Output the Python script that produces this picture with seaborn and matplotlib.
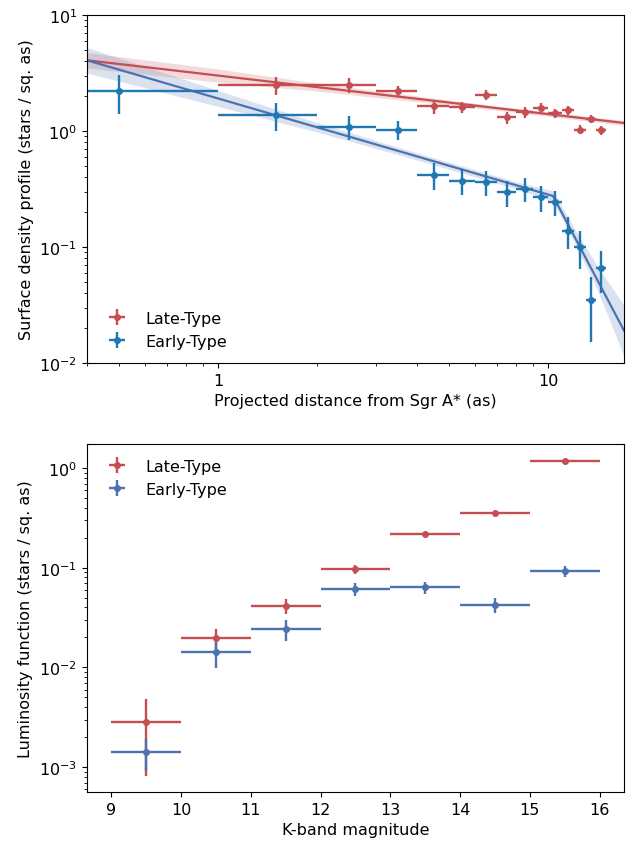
import matplotlib
matplotlib.use("Agg")
import matplotlib.pyplot as plt
import numpy as np
import pandas as pd
import seaborn as sns

# %%
# radial profile, bins of 1 arcsec
r_late = [1.5, 2.5, 3.5, 4.5, 5.5, 6.5, 7.5, 8.5, 9.5, 10.5, 11.5, 12.5, 13.5, 14.5]
sd_late = [2.49, 2.49, 2.22, 1.63, 1.60, 2.05, 1.31, 1.45, 1.58, 1.43, 1.52, 1.03, 1.27, 1.02]
sd_late_err = [0.45, 0.36, 0.25, 0.22, 0.18, 0.21, 0.15, 0.15, 0.15, 0.13, 0.13, 0.09, 0.10, 0.09]

r_early = [0.5, 1.5, 2.5, 3.5, 4.5, 5.5, 6.5, 7.5, 8.5, 9.5, 10.5, 11.5, 12.5, 13.5, 14.5]
sd_early = [2.22, 1.37, 1.09, 1.03, 0.421, 0.374, 0.366, 0.297, 0.317, 0.269, 0.244,
            0.139, 0.101, 0.0352, 0.066]
sd_early_err = [0.81, 0.36, 0.25, 0.20, 0.11, 0.095, 0.09, 0.075, 0.074, 0.068, 0.06,
                0.043, 0.036, 0.020, 0.026]
r_bin_half = 0.5

# fitted models (knots) and their bands
fit_late_r = [0.4, 17.0]
fit_late_sd = [4.08, 1.175]
band_late_r = [0.4, 1.0, 2.0, 4.0, 8.0, 17.0]
band_late_lo = [3.50, 2.64, 2.21, 1.79, 1.45, 1.116]
band_late_hi = [4.76, 3.43, 2.59, 2.01, 1.57, 1.235]

fit_early_r = [0.4, 10.35, 17.0]
fit_early_sd = [4.08, 0.276, 0.019]
band_early_r = [0.4, 1.0, 2.0, 4.0, 8.0, 10.35, 12.0, 14.0, 17.0]
band_early_lo = [3.17, 1.63, 0.98, 0.565, 0.318, 0.249, 0.110, 0.045, 0.0114]
band_early_hi = [5.25, 2.24, 1.18, 0.65, 0.366, 0.306, 0.146, 0.071, 0.0315]

# luminosity function, 1 mag bins
kmag = [9.5, 10.5, 11.5, 12.5, 13.5, 14.5, 15.5]
lf_late = [0.00281, 0.0198, 0.0416, 0.0966, 0.219, 0.358, 1.175]
lf_late_err = [0.0020, 0.0047, 0.0074, 0.010, 0.010, 0.012, 0.03]
lf_early = [0.00141, 0.01425, 0.0242, 0.061, 0.0638, 0.0425, 0.0922]
lf_early_err = [0.0005, 0.0043, 0.0056, 0.009, 0.009, 0.0075, 0.012]
k_bin_half = 0.5

# %%
sns.set_style("ticks", {"axes.edgecolor": "black", "text.color": "black",
                        "axes.labelcolor": "black", "xtick.color": "black",
                        "ytick.color": "black"})
plt.rcParams['font.family'] = ['DejaVu Sans']
plt.rcParams['font.size'] = 11.5

red = sns.color_palette("deep")[3]
blue = sns.color_palette("deep")[0]
tab_blue = "#1f77b4"

fig = plt.figure(figsize=(6.33, 8.45), dpi=100)
ax1 = fig.add_axes([0.137, 0.569, 0.849, 0.412])
ax2 = fig.add_axes([0.137, 0.0615, 0.849, 0.4115])

# surface density profile
ax1.fill_between(band_late_r, band_late_lo, band_late_hi, color=red, alpha=0.2, lw=0)
ax1.fill_between(band_early_r, band_early_lo, band_early_hi, color=blue, alpha=0.2, lw=0)
fits = pd.concat([
    pd.DataFrame({"r": fit_late_r, "sd": fit_late_sd, "type": "late"}),
    pd.DataFrame({"r": fit_early_r, "sd": fit_early_sd, "type": "early"}),
])
sns.lineplot(data=fits, x="r", y="sd", hue="type", palette={"late": red, "early": blue},
             lw=1.6, legend=False, ax=ax1, estimator=None, sort=False)

ax1.errorbar(r_late, sd_late, xerr=r_bin_half, yerr=sd_late_err, fmt="o", ms=4,
             color=red, elinewidth=1.7, capsize=0, label="Late-Type")
ax1.errorbar(r_early, sd_early, xerr=r_bin_half, yerr=sd_early_err, fmt="o", ms=4,
             color=tab_blue, elinewidth=1.7, capsize=0, label="Early-Type")
ax1.set_xscale("log")
ax1.set_yscale("log")
ax1.set_xlim(0.4, 17)
ax1.set_ylim(0.01, 10)
ax1.set_xticks([1, 10], labels=["1", "10"])
ax1.set_xlabel("Projected distance from Sgr A* (as)")
ax1.set_ylabel("Surface density profile (stars / sq. as)")
ax1.legend(loc="lower left", frameon=False)

# luminosity function
ax2.errorbar(kmag, lf_late, xerr=k_bin_half, yerr=lf_late_err, fmt="o", ms=4,
             color=red, elinewidth=1.7, capsize=0, label="Late-Type")
ax2.errorbar(kmag, lf_early, xerr=k_bin_half, yerr=lf_early_err, fmt="o", ms=4,
             color=blue, elinewidth=1.7, capsize=0, label="Early-Type")
ax2.set_yscale("log")
ax2.set_xlabel("K-band magnitude")
ax2.set_ylabel("Luminosity function (stars / sq. as)")
ax2.legend(loc="upper left", frameon=False)

fig.savefig("out.png", dpi=100)
